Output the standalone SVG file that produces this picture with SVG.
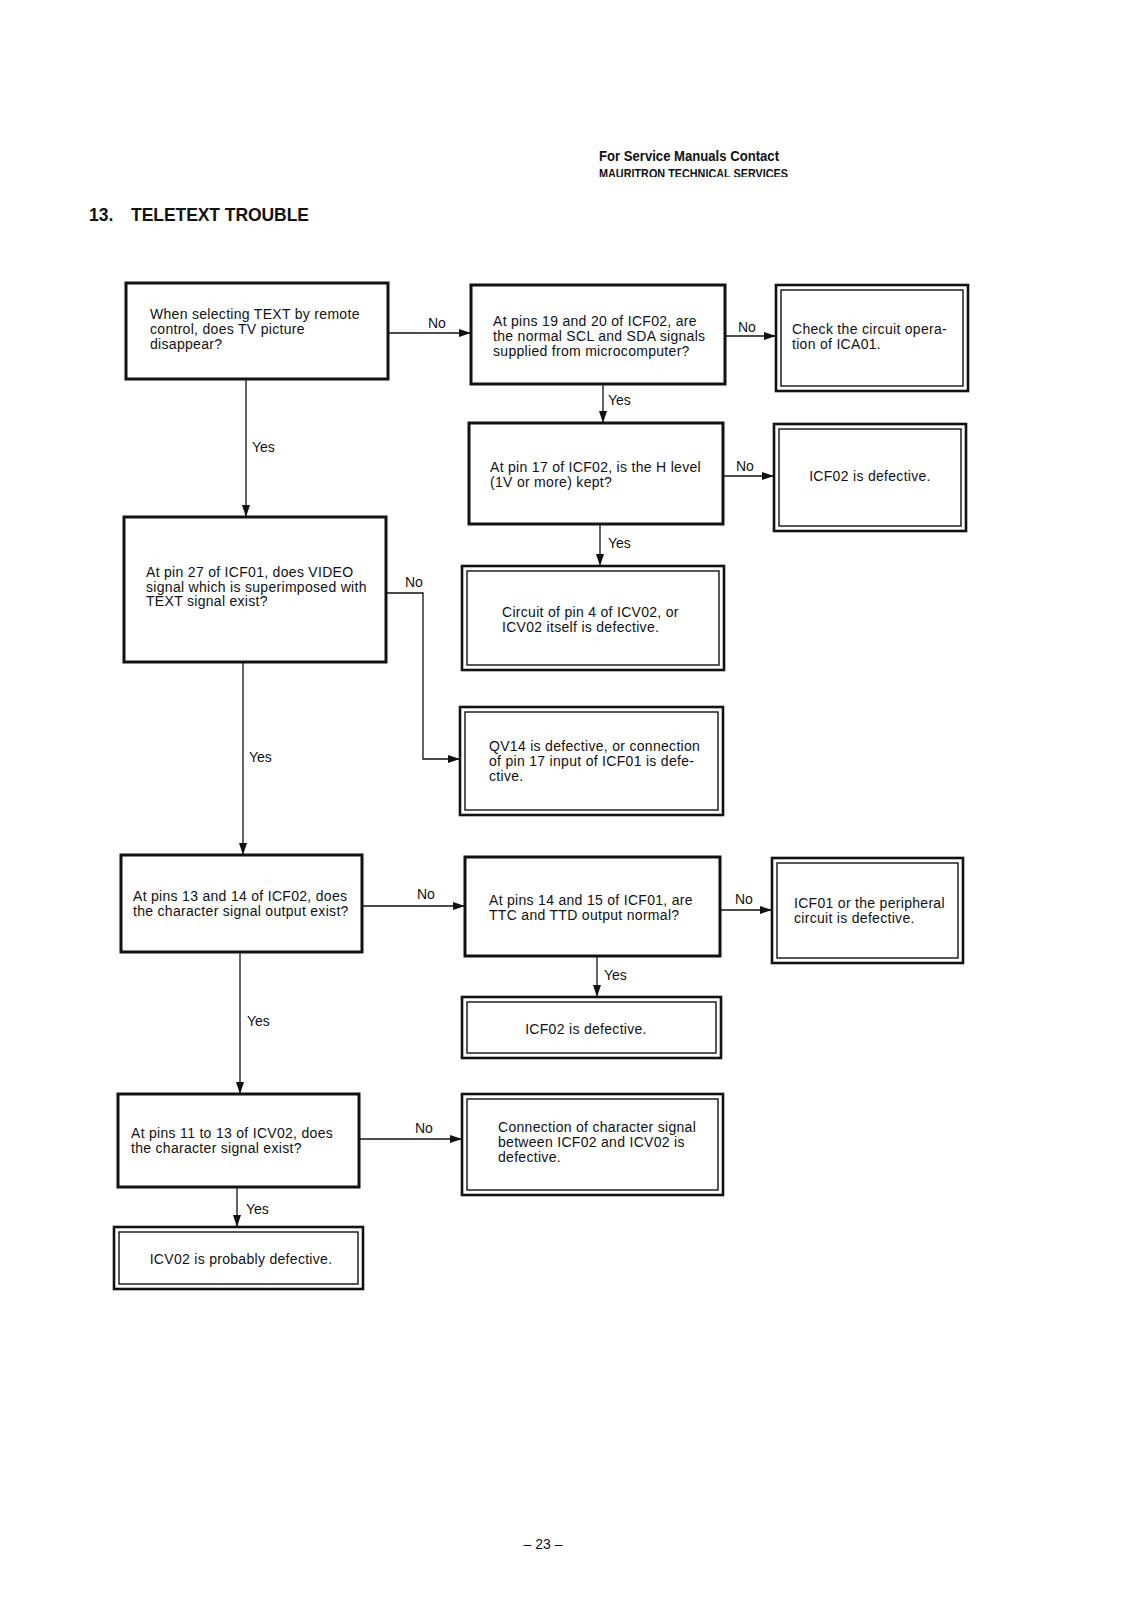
<svg xmlns="http://www.w3.org/2000/svg" width="1126" height="1600" viewBox="0 0 1126 1600">
<style>
.t{font-family:"Liberation Sans",Arial,sans-serif;font-size:14px;fill:#111;letter-spacing:0.3px}
.lb{font-family:"Liberation Sans",Arial,sans-serif;font-size:14px;fill:#111}
.q{fill:#fff;stroke:#111;stroke-width:3}
.o{fill:#fff;stroke:#111;stroke-width:2.6}
.i{fill:none;stroke:#111;stroke-width:1.4}
.c{fill:none;stroke:#111;stroke-width:1.3}
</style>
<defs>
<marker id="ah" viewBox="0 0 12 8" refX="12" refY="4" markerWidth="12" markerHeight="8" markerUnits="userSpaceOnUse" orient="auto">
<path d="M0,0 L12,4 L0,8 z" fill="#111"/>
</marker>
<clipPath id="hc"><rect x="590" y="140" width="220" height="37"/></clipPath>
</defs>
<rect width="1126" height="1600" fill="#fff"/>
<g id="header" clip-path="url(#hc)">
<text x="599" y="161" font-family="Liberation Sans,Arial,sans-serif" font-weight="bold" font-size="14.5" textLength="180" lengthAdjust="spacingAndGlyphs" fill="#111">For Service Manuals Contact</text>
<text x="599" y="178" font-family="Liberation Sans,Arial,sans-serif" font-weight="bold" font-size="13" textLength="189" lengthAdjust="spacingAndGlyphs" fill="#111">MAURITRON TECHNICAL SERVICES</text>
</g>
<g id="title">
<text x="89" y="221" font-family="Liberation Sans,Arial,sans-serif" font-weight="bold" font-size="17.5" fill="#111">13.</text>
<text x="131" y="221" font-family="Liberation Sans,Arial,sans-serif" font-weight="bold" font-size="17.5" fill="#111" textLength="178">TELETEXT TROUBLE</text>
</g>
<g id="connectors">
<line class="c" x1="388" y1="333" x2="471" y2="333" marker-end="url(#ah)"/>
<text class="lb" x="428" y="328">No</text>
<line class="c" x1="246" y1="379" x2="246" y2="517" marker-end="url(#ah)"/>
<text class="lb" x="252" y="452">Yes</text>
<line class="c" x1="725" y1="336" x2="776" y2="336" marker-end="url(#ah)"/>
<text class="lb" x="738" y="332">No</text>
<line class="c" x1="603" y1="384" x2="603" y2="423" marker-end="url(#ah)"/>
<text class="lb" x="608" y="405">Yes</text>
<line class="c" x1="723" y1="476" x2="774" y2="476" marker-end="url(#ah)"/>
<text class="lb" x="736" y="471">No</text>
<line class="c" x1="600" y1="524" x2="600" y2="566" marker-end="url(#ah)"/>
<text class="lb" x="608" y="548">Yes</text>
<polyline class="c" points="386,593 423,593 423,759 460,759" marker-end="url(#ah)"/>
<text class="lb" x="405" y="587">No</text>
<line class="c" x1="243" y1="662" x2="243" y2="855" marker-end="url(#ah)"/>
<text class="lb" x="249" y="762">Yes</text>
<line class="c" x1="362" y1="906" x2="465" y2="906" marker-end="url(#ah)"/>
<text class="lb" x="417" y="899">No</text>
<line class="c" x1="720" y1="910" x2="772" y2="910" marker-end="url(#ah)"/>
<text class="lb" x="735" y="904">No</text>
<line class="c" x1="597" y1="956" x2="597" y2="997" marker-end="url(#ah)"/>
<text class="lb" x="604" y="980">Yes</text>
<line class="c" x1="240" y1="952" x2="240" y2="1094" marker-end="url(#ah)"/>
<text class="lb" x="247" y="1026">Yes</text>
<line class="c" x1="359" y1="1139" x2="462" y2="1139" marker-end="url(#ah)"/>
<text class="lb" x="415" y="1133">No</text>
<line class="c" x1="237" y1="1187" x2="237" y2="1227" marker-end="url(#ah)"/>
<text class="lb" x="246" y="1214">Yes</text>
</g>
<g id="q1">
<rect class="q" x="126" y="283" width="262" height="96"/>
<text class="t" x="150" y="319">When selecting TEXT by remote</text>
<text class="t" x="150" y="334">control, does TV picture</text>
<text class="t" x="150" y="349">disappear?</text>
</g>
<g id="q2">
<rect class="q" x="471" y="285" width="254" height="99"/>
<text class="t" x="493" y="326">At pins 19 and 20 of ICF02, are</text>
<text class="t" x="493" y="341">the normal SCL and SDA signals</text>
<text class="t" x="493" y="356">supplied from microcomputer?</text>
</g>
<g id="e1">
<rect class="o" x="776" y="285" width="192" height="106"/>
<rect class="i" x="781" y="290" width="182" height="96"/>
<text class="t" x="792" y="334">Check the circuit opera-</text>
<text class="t" x="792" y="349">tion of ICA01.</text>
</g>
<g id="q3">
<rect class="q" x="469" y="423" width="254" height="101"/>
<text class="t" x="490" y="472">At pin 17 of ICF02, is the H level</text>
<text class="t" x="490" y="487">(1V or more) kept?</text>
</g>
<g id="e2">
<rect class="o" x="774" y="424" width="192" height="107"/>
<rect class="i" x="779" y="429" width="182" height="97"/>
<text class="t" x="870" y="481" text-anchor="middle">ICF02 is defective.</text>
</g>
<g id="e3">
<rect class="o" x="462" y="566" width="262" height="104"/>
<rect class="i" x="467" y="571" width="252" height="94"/>
<text class="t" x="502" y="617">Circuit of pin 4 of ICV02, or</text>
<text class="t" x="502" y="632">ICV02 itself is defective.</text>
</g>
<g id="q4">
<rect class="q" x="124" y="517" width="262" height="145"/>
<text class="t" x="146" y="577">At pin 27 of ICF01, does VIDEO</text>
<text class="t" x="146" y="592">signal which is superimposed with</text>
<text class="t" x="146" y="606">TEXT signal exist?</text>
</g>
<g id="e4">
<rect class="o" x="460" y="707" width="263" height="108"/>
<rect class="i" x="465" y="712" width="253" height="98"/>
<text class="t" x="489" y="751">QV14 is defective, or connection</text>
<text class="t" x="489" y="766">of pin 17 input of ICF01 is defe-</text>
<text class="t" x="489" y="781">ctive.</text>
</g>
<g id="q5">
<rect class="q" x="121" y="855" width="241" height="97"/>
<text class="t" x="133" y="901">At pins 13 and 14 of ICF02, does</text>
<text class="t" x="133" y="916">the character signal output exist?</text>
</g>
<g id="q6">
<rect class="q" x="465" y="857" width="255" height="99"/>
<text class="t" x="489" y="905">At pins 14 and 15 of ICF01, are</text>
<text class="t" x="489" y="920">TTC and TTD output normal?</text>
</g>
<g id="e5">
<rect class="o" x="772" y="858" width="191" height="105"/>
<rect class="i" x="777" y="863" width="181" height="95"/>
<text class="t" x="794" y="908">ICF01 or the peripheral</text>
<text class="t" x="794" y="923">circuit is defective.</text>
</g>
<g id="e6">
<rect class="o" x="462" y="997" width="259" height="61"/>
<rect class="i" x="467" y="1002" width="249" height="51"/>
<text class="t" x="586" y="1034" text-anchor="middle">ICF02 is defective.</text>
</g>
<g id="q7">
<rect class="q" x="118" y="1094" width="241" height="93"/>
<text class="t" x="131" y="1138">At pins 11 to 13 of ICV02, does</text>
<text class="t" x="131" y="1153">the character signal exist?</text>
</g>
<g id="e7">
<rect class="o" x="462" y="1094" width="261" height="101"/>
<rect class="i" x="467" y="1099" width="251" height="91"/>
<text class="t" x="498" y="1132">Connection of character signal</text>
<text class="t" x="498" y="1147">between ICF02 and ICV02 is</text>
<text class="t" x="498" y="1162">defective.</text>
</g>
<g id="e8">
<rect class="o" x="114" y="1227" width="249" height="62"/>
<rect class="i" x="119" y="1232" width="239" height="52"/>
<text class="t" x="241" y="1264" text-anchor="middle">ICV02 is probably defective.</text>
</g>
<text x="543" y="1549" text-anchor="middle" font-family="Liberation Sans,Arial,sans-serif" font-size="14" fill="#111">– 23 –</text>
</svg>
